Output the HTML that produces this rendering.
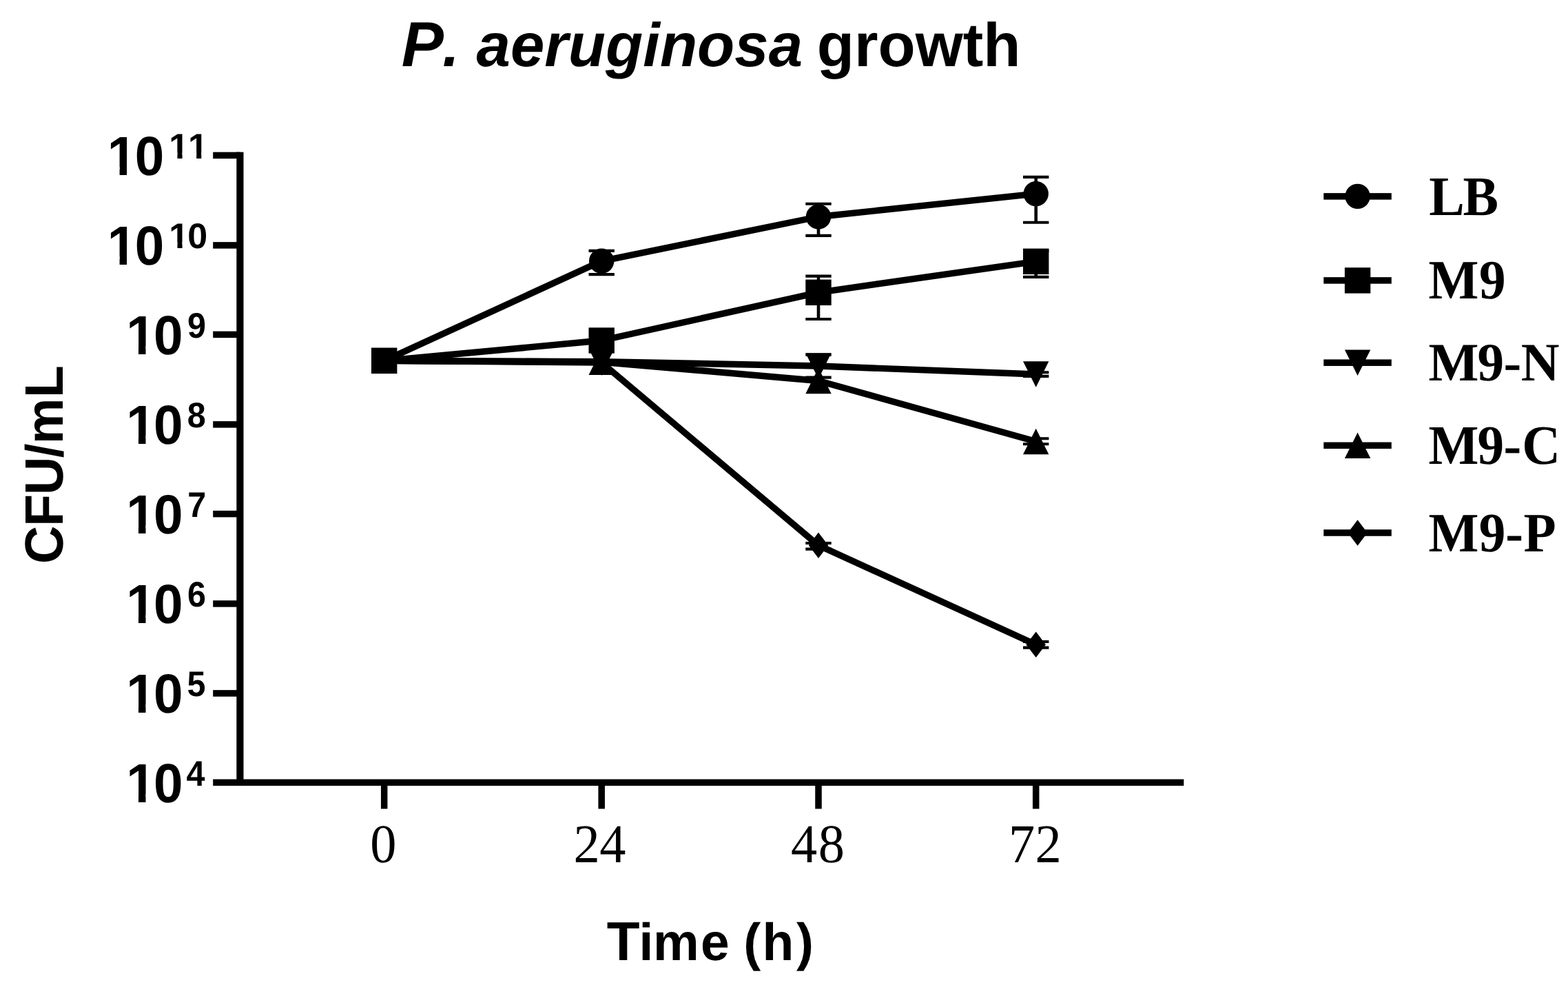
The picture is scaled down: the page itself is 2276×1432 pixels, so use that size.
<!DOCTYPE html>
<html lang="en">
<head>
<meta charset="utf-8">
<title>P. aeruginosa growth</title>
<style>
html,body{margin:0;padding:0;background:#fff;}
body{width:2276px;height:1432px;overflow:hidden;}
svg{display:block;}
text{fill:#000;font-kerning:none;font-variant-ligatures:none;text-rendering:geometricPrecision;white-space:pre;}
.sb{font-family:"Liberation Sans",Arial,Helvetica,sans-serif;font-weight:bold;}
.it{font-style:italic;}
.tr{font-family:"Liberation Serif","Times New Roman",Times,serif;font-weight:normal;}
.tb{font-family:"Liberation Serif","Times New Roman",Times,serif;font-weight:bold;}
</style>
</head>
<body>
<svg width="2276" height="1432" viewBox="0 0 2276 1432">
<rect width="2276" height="1432" fill="#fff"/>
<defs>
<clipPath id="c10"><path clip-rule="evenodd" d="M-10 -90H180V30H-10ZM2.22 -10.65H17.5V3H2.22ZM27.8 -10.65H42.12V3H27.8Z"/></clipPath>
<clipPath id="c11"><path clip-rule="evenodd" d="M-10 -60H120V20H-10ZM0.65 -8.1H11.67V3H0.65ZM18.53 -8.1H28.92V3H18.53ZM27.28 -8.1H38.3V3H27.28ZM45.16 -8.1H55.55V3H45.16Z"/></clipPath>
<clipPath id="c1"><path clip-rule="evenodd" d="M-10 -60H120V20H-10ZM0.65 -8.1H11.67V3H0.65ZM18.53 -8.1H28.92V3H18.53Z"/></clipPath>
</defs>
<text class="sb" font-size="89" transform="translate(0 95.6) scale(0.9970 1.0050)"><tspan class="it" font-size="92" x="584.64">P</tspan><tspan class="it" x="644.26">. aeruginosa</tspan><tspan x="1164.6"> growth</tspan></text>
<text class="sb" font-size="75" transform="translate(0 1393.1) scale(1 1.0180)"><tspan font-size="78.3" x="880.84">T</tspan><tspan x="927.57 947.91 1016.96 1036.96 1079.23 1106.55 1155.99">ime (h)</tspan></text>
<text class="sb" font-size="75" transform="translate(91 0) rotate(-90) scale(1 1.0200)"><tspan font-size="77" x="-818.23 -764.08 -718.27">CFU</tspan><tspan x="-664.27 -644.34">/m</tspan><tspan font-size="77" x="-577.16">L</tspan></text>
<g fill="#000" stroke="none">
<rect x="343.3" y="220.65" width="10.2" height="919.4"/>
<rect x="309.2" y="1130.55" width="1409.1" height="9.5"/>
<rect x="309.2" y="1001.16" width="39.2" height="9.5"/>
<rect x="309.2" y="871.18" width="39.2" height="9.5"/>
<rect x="309.2" y="740.89" width="39.2" height="9.5"/>
<rect x="309.2" y="611.11" width="39.2" height="9.5"/>
<rect x="309.2" y="480.62" width="39.2" height="9.5"/>
<rect x="309.2" y="351.14" width="39.2" height="9.5"/>
<rect x="309.2" y="220.65" width="39.2" height="9.5"/>
<rect x="552.95" y="1135.3" width="9.5" height="38.2"/>
<rect x="868.45" y="1135.3" width="9.5" height="38.2"/>
<rect x="1183.25" y="1135.3" width="9.5" height="38.2"/>
<rect x="1498.95" y="1135.3" width="9.5" height="38.2"/>
</g>
<g>
<text class="sb" font-size="75" transform="translate(183.15 1163.6) scale(1.0200 1.0680)" x="0 39.15" clip-path="url(#c10)">10</text>
<text class="sb" font-size="50" transform="translate(270.49 1139.8) scale(0.9700 1.0300)">4</text>
</g>
<g>
<text class="sb" font-size="75" transform="translate(183.15 1033.61) scale(1.0200 1.0680)" x="0 39.15" clip-path="url(#c10)">10</text>
<text class="sb" font-size="50" transform="translate(271.58 1009.81) scale(0.9700 1.0300)">5</text>
</g>
<g>
<text class="sb" font-size="75" transform="translate(183.15 903.63) scale(1.0200 1.0680)" x="0 39.15" clip-path="url(#c10)">10</text>
<text class="sb" font-size="50" transform="translate(271.98 879.83) scale(0.9700 1.0300)">6</text>
</g>
<g>
<text class="sb" font-size="75" transform="translate(183.15 773.64) scale(1.0200 1.0680)" x="0 39.15" clip-path="url(#c10)">10</text>
<text class="sb" font-size="50" transform="translate(272.36 749.84) scale(0.9700 1.0300)">7</text>
</g>
<g>
<text class="sb" font-size="75" transform="translate(183.15 643.66) scale(1.0200 1.0680)" x="0 39.15" clip-path="url(#c10)">10</text>
<text class="sb" font-size="50" transform="translate(271.72 619.86) scale(0.9700 1.0300)">8</text>
</g>
<g>
<text class="sb" font-size="75" transform="translate(183.15 513.67) scale(1.0200 1.0680)" x="0 39.15" clip-path="url(#c10)">10</text>
<text class="sb" font-size="50" transform="translate(272.03 489.87) scale(0.9700 1.0300)">9</text>
</g>
<g>
<text class="sb" font-size="75" transform="translate(155.75 383.69) scale(1.0200 1.0680)" x="0 39.15" clip-path="url(#c10)">10</text>
<text class="sb" font-size="50" transform="translate(245.33 359.89) scale(1.0400 1.0300)" x="0 25.77" clip-path="url(#c1)">10</text>
</g>
<g>
<text class="sb" font-size="75" transform="translate(155.75 253.7) scale(1.0200 1.0680)" x="0 39.15" clip-path="url(#c10)">10</text>
<text class="sb" font-size="50" transform="translate(245.33 229.9) scale(1.0400 1.0300)" x="0 26.63" clip-path="url(#c11)">11</text>
</g>
<text class="tr" font-size="75" transform="translate(0 1251.4) scale(1.0200 1.0600)" x="526.79">0</text>
<text class="tr" font-size="75" transform="translate(0 1251.4) scale(1.0200 1.0600)" x="816.28 853.16">24</text>
<text class="tr" font-size="75" transform="translate(0 1251.4) scale(1.0200 1.0600)" x="1125.42 1164.39">48</text>
<text class="tr" font-size="75" transform="translate(0 1251.4) scale(1.0200 1.0600)" x="1435.2 1472.95">72</text>
<g fill="none" stroke="#000" stroke-width="9.4" stroke-linejoin="round" stroke-linecap="butt">
<polyline points="557.7,523.4 873.2,378.8 1188,314.5 1503.7,281.1"/>
<polyline points="557.7,523.4 873.2,494 1188,424.3 1503.7,379.3"/>
<polyline points="557.7,523.4 873.2,524.6 1188,531 1503.7,543"/>
<polyline points="557.7,523.4 873.2,525.2 1188,552.5 1503.7,640.5"/>
<polyline points="557.7,523.4 873.2,526 1188,791.3 1503.7,935.2"/>
</g>
<g fill="none" stroke="#000" stroke-width="4.1">
<path stroke-width="4.6" d="M873.2 363.9V398.1"/><path d="M854.5 363.9H891.9M854.5 398.1H891.9"/>
<path stroke-width="4.6" d="M1188 295.8V341.9"/><path d="M1169.3 295.8H1206.7M1169.3 341.9H1206.7"/>
<path stroke-width="4.6" d="M1503.7 256.9V322.8"/><path d="M1485 256.9H1522.4M1485 322.8H1522.4"/>
<path stroke-width="4.6" d="M1188 400.6V463"/><path d="M1169.3 400.6H1206.7M1169.3 463H1206.7"/>
<path stroke-width="4.6" d="M1503.7 364V401.9"/><path d="M1485 364H1522.4M1485 401.9H1522.4"/>
<path stroke-width="4.6" d="M1188 514.6V547.6"/><path d="M1169.3 514.6H1206.7M1169.3 547.6H1206.7"/>
<path stroke-width="4.6" d="M1503.7 540.2V545.9"/><path d="M1485 540.2H1522.4M1485 545.9H1522.4"/>
<path stroke-width="4.6" d="M1503.7 636.3V644.2"/><path d="M1485 636.3H1522.4M1485 644.2H1522.4"/>
<path stroke-width="4.6" d="M1188 788V796.6"/><path d="M1169.3 788H1206.7M1169.3 796.6H1206.7"/>
<path stroke-width="4.6" d="M1503.7 931V939.6"/><path d="M1485 931H1522.4M1485 939.6H1522.4"/>
</g>
<g fill="#000" stroke="none">
<circle cx="557.7" cy="523.4" r="18.2"/>
<circle cx="873.2" cy="378.8" r="18.2"/>
<circle cx="1188" cy="314.5" r="18.2"/>
<circle cx="1503.7" cy="281.1" r="18.2"/>
<rect x="539" y="504.7" width="37.4" height="37.4"/>
<rect x="854.5" y="475.3" width="37.4" height="37.4"/>
<rect x="1169.3" y="405.6" width="37.4" height="37.4"/>
<rect x="1485" y="360.6" width="37.4" height="37.4"/>
<polygon points="539,504.7 576.4,504.7 557.7,542.1"/>
<polygon points="854.5,505.9 891.9,505.9 873.2,543.3"/>
<polygon points="1169.3,512.3 1206.7,512.3 1188,549.7"/>
<polygon points="1485,524.3 1522.4,524.3 1503.7,561.7"/>
<polygon points="539,542.1 576.4,542.1 557.7,504.7"/>
<polygon points="854.5,543.9 891.9,543.9 873.2,506.5"/>
<polygon points="1169.3,571.2 1206.7,571.2 1188,533.8"/>
<polygon points="1485,659.2 1522.4,659.2 1503.7,621.8"/>
<polygon points="543.5,523.4 557.7,504.7 571.9,523.4 557.7,542.1"/>
<polygon points="859,526 873.2,507.3 887.4,526 873.2,544.7"/>
<polygon points="1173.8,791.3 1188,772.6 1202.2,791.3 1188,810"/>
<polygon points="1489.5,935.2 1503.7,916.5 1517.9,935.2 1503.7,953.9"/>
</g>
<g>
<rect x="1921.3" y="280.15" width="98.5" height="9.5" fill="#000"/>
<g fill="#000"><circle cx="1970.6" cy="284.9" r="18.2"/></g>
<text class="tb" font-size="75" transform="translate(0 311.65) scale(1.0300 1.0780)" x="2013.79 2061.62">LB</text>
</g>
<g>
<rect x="1921.3" y="402.15" width="98.5" height="9.5" fill="#000"/>
<g fill="#000"><rect x="1951.9" y="388.2" width="37.4" height="37.4"/></g>
<text class="tb" font-size="75" transform="translate(0 433.4) scale(1.0300 1.0750)" x="2013.1 2084.4">M9</text>
</g>
<g>
<rect x="1921.3" y="521.45" width="98.5" height="9.5" fill="#000"/>
<g fill="#000"><polygon points="1951.9,507.5 1989.3,507.5 1970.6,544.9"/></g>
<text class="tb" font-size="75" transform="translate(0 552.4) scale(1.0300 1.0500)" x="2013.1 2082.07 2118.82 2143.33">M9-N</text>
</g>
<g>
<rect x="1921.3" y="641.55" width="98.5" height="9.5" fill="#000"/>
<g fill="#000"><polygon points="1951.9,665 1989.3,665 1970.6,627.6"/></g>
<text class="tb" font-size="75" transform="translate(0 673.4) scale(1.0300 1.0800)" x="2013.1 2081.97 2118.82 2144.96">M9-C</text>
</g>
<g>
<rect x="1921.3" y="768.25" width="98.5" height="9.5" fill="#000"/>
<g fill="#000"><polygon points="1956.4,773 1970.6,754.3 1984.8,773 1970.6,791.7"/></g>
<text class="tb" font-size="75" transform="translate(0 799.7) scale(1.0300 1.0760)" x="2013.1 2084.15 2121.64 2147.03">M9-P</text>
</g>
</svg>
</body>
</html>
